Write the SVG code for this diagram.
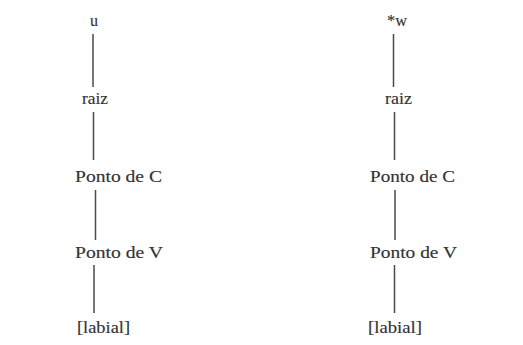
<svg xmlns="http://www.w3.org/2000/svg" width="523" height="345" viewBox="0 0 523 345">
<style>
text{font-family:"Liberation Serif","Times New Roman",serif;font-size:16px;fill:#333;stroke:#333;stroke-width:0.15}
.c line{stroke:#4a4a4a;stroke-width:1.5}
</style>
<rect width="523" height="345" fill="#fff"/>
<g class="c" id="connectors">
<line x1="93" y1="34" x2="93" y2="87"/>
<line x1="93.5" y1="112" x2="93.5" y2="160"/>
<line x1="95.5" y1="190" x2="95.5" y2="240"/>
<line x1="94" y1="265" x2="94" y2="313"/>
<line x1="393.5" y1="34" x2="393.5" y2="87"/>
<line x1="394.5" y1="112" x2="394.5" y2="160"/>
<line x1="395" y1="190" x2="395" y2="240"/>
<line x1="394.5" y1="265" x2="394.5" y2="313"/>
</g>
<g id="l-u"><text x="90" y="26">u</text></g>
<g id="l-raiz"><text x="82" y="104" textLength="26" lengthAdjust="spacingAndGlyphs">raiz</text></g>
<g id="l-pc"><text x="75" y="182" textLength="87" lengthAdjust="spacingAndGlyphs">Ponto de C</text></g>
<g id="l-pv"><text x="75" y="258" textLength="88" lengthAdjust="spacingAndGlyphs">Ponto de V</text></g>
<g id="l-lab"><text x="77" y="333" textLength="53" lengthAdjust="spacingAndGlyphs">[labial]</text></g>
<g id="r-w"><text x="387" y="26" textLength="20" lengthAdjust="spacingAndGlyphs">*w</text></g>
<g id="r-raiz"><text x="385" y="104" textLength="27" lengthAdjust="spacingAndGlyphs">raiz</text></g>
<g id="r-pc"><text x="370" y="182" textLength="85" lengthAdjust="spacingAndGlyphs">Ponto de C</text></g>
<g id="r-pv"><text x="370" y="258" textLength="87" lengthAdjust="spacingAndGlyphs">Ponto de V</text></g>
<g id="r-lab"><text x="368" y="333" textLength="54" lengthAdjust="spacingAndGlyphs">[labial]</text></g>
</svg>
